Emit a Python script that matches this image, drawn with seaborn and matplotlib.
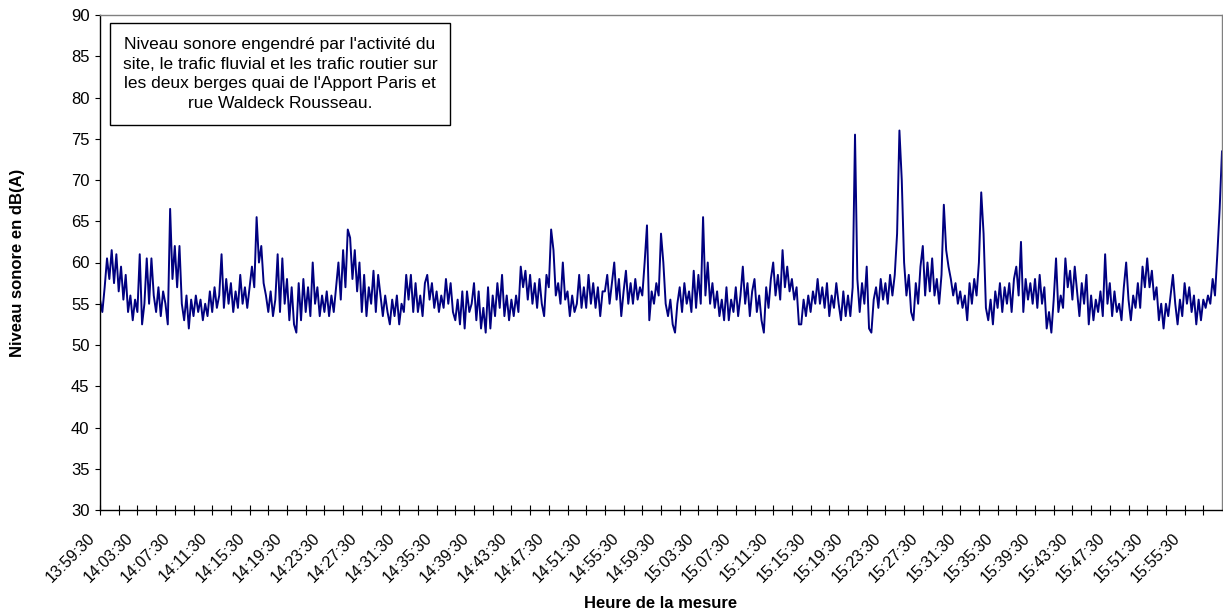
import numpy as np
import pandas as pd
import matplotlib
matplotlib.use("Agg")
import matplotlib.pyplot as plt
import matplotlib.transforms as mtransforms
from matplotlib.patches import Rectangle
import seaborn as sns

# Sound level readings (dB(A)), one every 15 s from 13:59:30, four per line = one minute
niveau_db = [
    55.5, 54.0, 57.0, 60.5,   58.0, 61.5, 57.5, 61.0,   56.5, 59.5, 55.5, 58.5,
    54.0, 56.0, 53.0, 55.5,   54.0, 61.0, 52.5, 55.0,   60.5, 55.0, 60.5, 56.0,
    54.0, 57.0, 53.5, 56.5,   55.0, 52.5, 66.5, 58.0,   62.0, 57.0, 62.0, 55.0,
    53.0, 56.0, 52.0, 55.5,   53.5, 56.0, 54.0, 55.5,   53.0, 55.0, 53.5, 56.5,
    54.0, 57.0, 54.5, 56.0,   61.0, 54.5, 58.0, 55.0,   57.5, 54.0, 56.5, 54.5,
    58.5, 55.0, 57.0, 54.5,   57.0, 59.5, 57.0, 65.5,   60.0, 62.0, 57.5, 56.0,
    54.0, 56.5, 53.5, 55.5,   61.0, 54.0, 60.5, 55.0,   58.0, 53.0, 57.0, 52.5,
    51.5, 57.5, 53.0, 58.0,   54.0, 57.0, 53.5, 60.0,   55.0, 57.0, 53.5, 56.0,
    54.0, 56.5, 53.5, 56.0,   54.0, 57.0, 60.0, 55.5,   61.5, 57.0, 64.0, 63.0,
    58.0, 61.5, 56.5, 60.0,   54.0, 58.5, 53.5, 57.0,   55.0, 59.0, 54.0, 58.5,
    56.0, 53.5, 56.0, 54.0,   52.5, 55.5, 53.5, 56.0,   52.5, 55.0, 54.0, 58.5,
    55.5, 58.5, 54.0, 57.5,   54.0, 56.0, 53.5, 57.5,   58.5, 55.5, 57.5, 54.5,
    56.5, 54.0, 56.0, 54.5,   58.0, 55.0, 57.5, 54.0,   53.0, 55.5, 52.5, 56.5,
    52.0, 56.5, 54.0, 55.0,   57.5, 53.0, 56.5, 52.0,   54.5, 51.5, 57.0, 52.0,
    56.0, 53.5, 57.5, 54.5,   58.5, 53.5, 56.0, 53.0,   55.5, 53.5, 56.0, 54.0,
    59.5, 57.0, 59.0, 55.5,   58.5, 55.0, 57.5, 54.5,   58.0, 55.0, 53.5, 58.5,
    57.0, 64.0, 61.5, 56.0,   57.5, 55.0, 60.0, 55.5,   56.5, 53.5, 56.0, 54.0,
    55.0, 58.5, 54.5, 57.0,   54.5, 58.5, 55.0, 57.5,   54.5, 57.0, 53.5, 56.5,
    56.5, 58.5, 55.0, 57.5,   60.0, 55.5, 58.0, 53.5,   56.5, 59.0, 55.0, 57.5,
    55.0, 58.0, 55.5, 57.0,   56.0, 60.0, 64.5, 53.0,   56.5, 55.0, 57.5, 56.0,
    63.5, 60.0, 55.0, 53.5,   55.5, 52.5, 51.5, 55.0,   57.0, 54.0, 57.5, 55.0,
    56.5, 54.0, 59.0, 54.5,   58.5, 55.0, 65.5, 56.0,   60.0, 55.0, 57.5, 54.5,
    56.5, 53.5, 55.5, 53.0,   57.0, 53.0, 55.5, 54.0,   57.0, 53.5, 56.0, 59.5,
    55.0, 57.5, 53.5, 56.5,   58.0, 54.0, 56.0, 53.0,   51.5, 57.0, 54.5, 58.0,
    60.0, 56.0, 58.5, 55.5,   61.5, 57.0, 59.5, 56.5,   58.0, 55.5, 57.0, 52.5,
    52.5, 55.5, 53.5, 56.0,   54.0, 56.5, 55.0, 58.0,   55.0, 57.0, 54.5, 57.5,
    53.5, 56.0, 54.5, 57.5,   55.0, 53.0, 56.5, 53.5,   56.0, 53.5, 57.0, 75.5,
    58.0, 54.0, 57.5, 55.0,   59.5, 52.0, 51.5, 55.5,   57.0, 54.5, 58.0, 55.5,
    57.5, 55.0, 58.5, 56.0,   58.5, 63.5, 76.0, 70.0,   60.0, 56.0, 58.5, 54.0,
    53.0, 57.5, 55.0, 59.5,   62.0, 56.0, 60.0, 56.5,   60.5, 56.0, 58.0, 55.0,
    58.5, 67.0, 61.5, 59.5,   58.0, 56.0, 57.5, 55.0,   56.5, 54.5, 56.0, 53.0,
    57.5, 55.0, 58.0, 56.0,   60.0, 68.5, 63.5, 54.5,   53.0, 55.5, 52.5, 56.5,
    54.5, 57.5, 54.0, 57.0,   55.0, 57.5, 54.0, 58.0,   59.5, 56.0, 62.5, 54.0,
    58.0, 55.5, 57.5, 55.0,   58.0, 54.5, 58.5, 55.0,   57.0, 52.0, 54.0, 51.5,
    55.5, 60.5, 54.0, 56.0,   54.5, 60.5, 57.0, 59.0,   55.5, 59.5, 56.5, 53.5,
    57.5, 55.0, 58.5, 52.5,   56.0, 53.0, 55.5, 54.0,   56.5, 53.5, 61.0, 55.0,
    57.5, 53.5, 56.5, 54.0,   55.0, 53.0, 57.0, 60.0,   55.5, 53.0, 56.0, 54.5,
    57.5, 54.5, 59.5, 57.0,   60.5, 57.0, 59.0, 55.5,   57.0, 53.0, 55.0, 52.0,
    55.0, 53.5, 56.0, 58.5,   55.0, 52.5, 55.5, 53.5,   57.5, 55.0, 57.0, 54.0,
    56.0, 52.5, 55.5, 53.0,   55.5, 54.5, 56.0, 55.0,   58.0, 56.0, 61.0, 66.5,
    73.5,
]

# Time axis: minutes elapsed since 13:59:30, sampled every 15 s
pas_minutes = 0.25
minutes = np.arange(len(niveau_db)) * pas_minutes

etiquettes_heure = [
    "13:59:30", "14:03:30", "14:07:30", "14:11:30", "14:15:30", "14:19:30",
    "14:23:30", "14:27:30", "14:31:30", "14:35:30", "14:39:30", "14:43:30",
    "14:47:30", "14:51:30", "14:55:30", "14:59:30", "15:03:30", "15:07:30",
    "15:11:30", "15:15:30", "15:19:30", "15:23:30", "15:27:30", "15:31:30",
    "15:35:30", "15:39:30", "15:43:30", "15:47:30", "15:51:30", "15:55:30",
]

df = pd.DataFrame({"minutes": minutes, "niveau": niveau_db})

sns.set_theme(style="white")
plt.rcParams["font.family"] = ["Liberation Sans", "DejaVu Sans"]
plt.rcParams.update({"text.color": "black", "axes.labelcolor": "black",
                     "xtick.color": "black", "ytick.color": "black"})

fig = plt.figure(figsize=(12.23, 6.14), dpi=100)
ax = fig.add_axes([100 / 1223, 1 - 510 / 614, 1122 / 1223, 495 / 614])

sns.lineplot(data=df, x="minutes", y="niveau", ax=ax, color="#000080",
             linewidth=1.4, estimator=None)

ax.set_xlim(0, 120)
ax.set_ylim(30, 90)
ax.set_yticks(np.arange(30, 91, 5))
ax.tick_params(axis="y", direction="out", length=3.6, width=0.8,
               labelsize=12, pad=4, left=True)

ax.set_xticks(np.arange(len(etiquettes_heure)) * 4)
ax.set_xticks(np.arange(2, 121, 4), minor=True)
ax.set_xticklabels(etiquettes_heure, rotation=45, ha="right", va="center",
                   rotation_mode="anchor")
ax.tick_params(axis="x", which="both", direction="inout", length=7, width=0.8,
               bottom=True)
ax.tick_params(axis="x", which="major", labelsize=11.5, pad=15)
shift = mtransforms.ScaledTranslation(-0.07, 0, fig.dpi_scale_trans)
for lab in ax.get_xticklabels():
    lab.set_transform(lab.get_transform() + shift)

for side in ("left", "bottom"):
    ax.spines[side].set_color("black")
    ax.spines[side].set_linewidth(1.0)
for side in ("top", "right"):
    ax.spines[side].set_color("#808080")
    ax.spines[side].set_linewidth(1.0)

ax.set_xlabel("Heure de la mesure", fontsize=12, fontweight="bold")
ax.xaxis.set_label_coords(0.5, (510 - 603) / 495)
ax.xaxis.label.set_va("center")
ax.set_ylabel("Niveau sonore en dB(A)", fontsize=12, fontweight="bold")
ax.yaxis.set_label_coords((18 - 100) / 1122, 0.5)
ax.yaxis.label.set_va("center")

# Caption box in the upper-left corner of the plot
x0, x1 = (110 - 100) / 1122, (450 - 100) / 1122
y0, y1 = (510 - 125) / 495, (510 - 23) / 495
ax.add_patch(Rectangle((x0, y0), x1 - x0, y1 - y0, transform=ax.transAxes,
                       facecolor="white", edgecolor="black", linewidth=1.0,
                       zorder=5))
ax.text((x0 + x1) / 2, (y0 + y1) / 2,
        "Niveau sonore engendré par l'activité du\n"
        "site, le trafic fluvial et les trafic routier sur\n"
        "les deux berges quai de l'Apport Paris et\n"
        "rue Waldeck Rousseau.",
        transform=ax.transAxes, ha="center", va="center", fontsize=12.5,
        linespacing=1.38, zorder=6)

fig.savefig("out.png", dpi=100)
